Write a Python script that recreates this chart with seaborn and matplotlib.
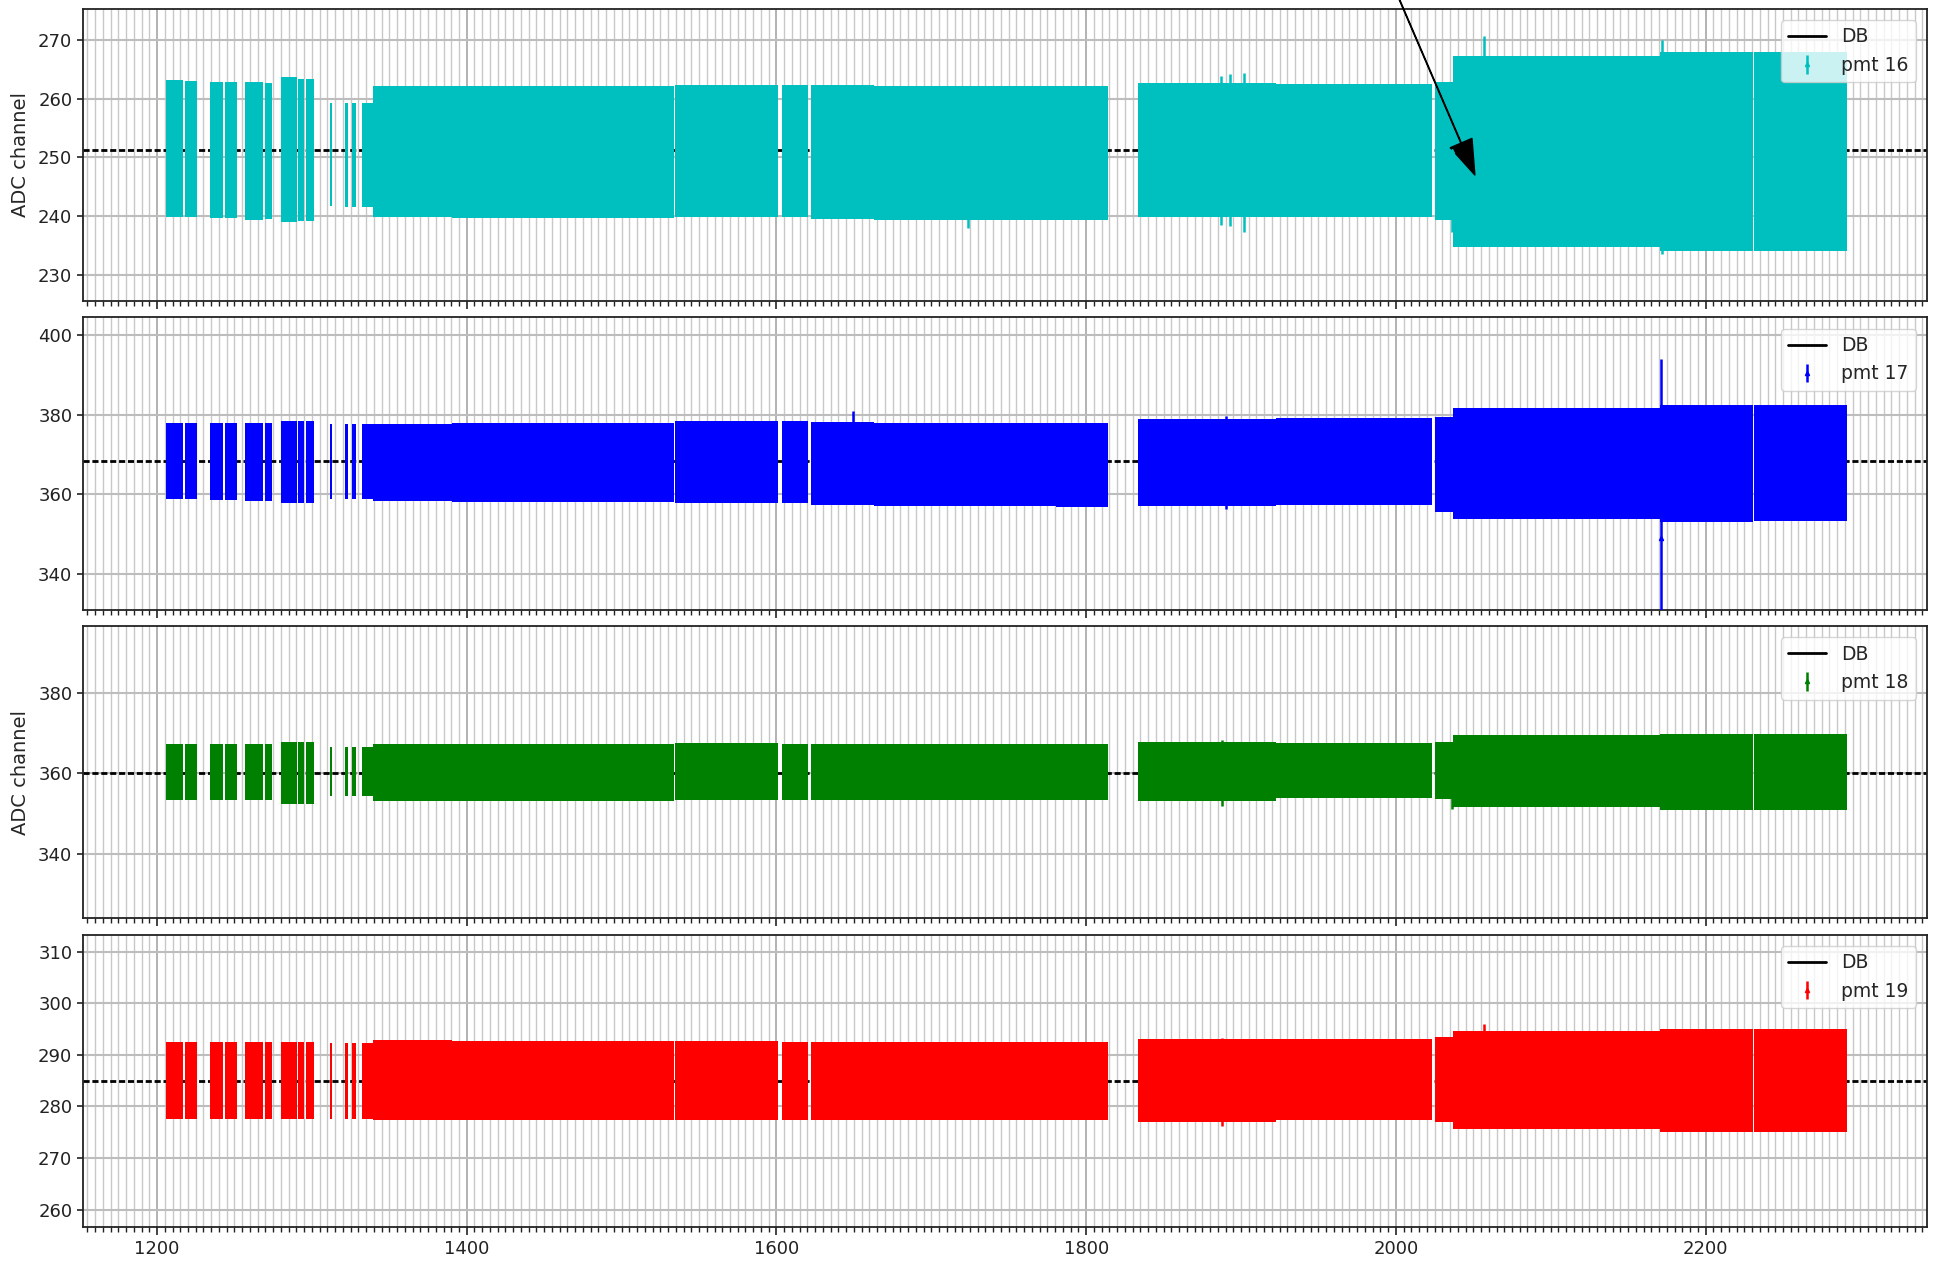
import numpy as np
import pandas as pd
import matplotlib
matplotlib.use("Agg")
import matplotlib.pyplot as plt
from matplotlib.lines import Line2D
from matplotlib.ticker import MultipleLocator
import seaborn as sns

# ---------------- data ----------------
# run-number segments of consecutive runs (shared by all PMTs)
seg_start = [1205.5, 1218.0, 1234.0, 1244.0, 1257.0, 1270.0, 1280.0, 1291.3, 1296.3,
             1311.9, 1321.4, 1325.8, 1332.2, 1339.6, 1390.65, 1534.25, 1603.8, 1622.6,
             1663.15, 1780.65, 1833.8, 1922.45, 2025.4, 2037.2, 2170.8, 2231.05]
seg_end = [1217.0, 1225.5, 1242.5, 1251.5, 1268.5, 1274.5, 1290.2, 1295.0, 1301.4,
           1312.9, 1323.6, 1328.6, 1339.7, 1390.5, 1534.1, 1600.8, 1620.1, 1663.0,
           1780.5, 1814.1, 1922.3, 2023.5, 2037.4, 2171.0, 2230.9, 2291.6]

# envelope (lower / upper end of error bars) within each segment
pmt16_lo = [239.8, 239.8, 239.6, 239.6, 239.3, 239.5, 239.0, 239.1, 239.2,
            241.8, 241.5, 241.5, 241.6, 239.9, 239.7, 239.8, 239.9, 239.5,
            239.4, 239.3, 239.8, 239.8, 239.3, 234.8, 234.0, 234.1]
pmt16_hi = [263.1, 263.0, 262.8, 262.8, 262.9, 262.7, 263.6, 263.4, 263.4,
            259.3, 259.2, 259.2, 259.3, 262.1, 262.2, 262.4, 262.3, 262.3,
            262.2, 262.2, 262.6, 262.5, 262.8, 267.3, 268.0, 267.9]

pmt17_lo = [358.8, 358.8, 358.6, 358.6, 358.4, 358.4, 357.9, 357.9, 357.9,
            358.8, 358.8, 358.8, 358.8, 358.4, 358.0, 357.7, 357.7, 357.3,
            357.1, 356.9, 357.0, 357.3, 355.5, 353.9, 353.1, 353.2]
pmt17_hi = [378.0, 378.0, 377.9, 377.9, 378.0, 378.0, 378.5, 378.5, 378.5,
            377.6, 377.6, 377.6, 377.6, 377.7, 378.0, 378.3, 378.3, 378.1,
            378.0, 378.0, 379.0, 379.2, 379.5, 381.7, 382.4, 382.3]

pmt18_lo = [353.4, 353.4, 353.4, 353.4, 353.4, 353.4, 352.5, 352.5, 352.5,
            354.4, 354.4, 354.4, 354.4, 353.2, 353.2, 353.3, 353.3, 353.4,
            353.4, 353.4, 353.2, 353.8, 353.6, 351.6, 350.9, 351.0]
pmt18_hi = [367.2, 367.2, 367.2, 367.2, 367.2, 367.2, 367.8, 367.8, 367.8,
            366.6, 366.6, 366.6, 366.6, 367.2, 367.4, 367.5, 367.4, 367.3,
            367.3, 367.3, 367.7, 367.6, 367.8, 369.4, 369.8, 369.7]

pmt19_lo = [277.5, 277.5, 277.5, 277.5, 277.5, 277.5, 277.5, 277.5, 277.5,
            277.5, 277.5, 277.5, 277.5, 277.4, 277.3, 277.3, 277.4, 277.4,
            277.3, 277.3, 276.9, 277.4, 277.0, 275.7, 275.0, 275.1]
pmt19_hi = [292.5, 292.5, 292.5, 292.5, 292.5, 292.5, 292.5, 292.5, 292.5,
            292.3, 292.3, 292.3, 292.3, 292.8, 292.7, 292.6, 292.5, 292.5,
            292.5, 292.5, 293.0, 293.1, 293.5, 294.6, 295.0, 294.9]

# individual runs that stick out (run, mean, lower end, upper end)
pmt16_out_x = [1724.0, 1887.0, 1893.0, 1902.0, 2036.0, 2057.0, 2172.0]
pmt16_out_m = [251.0, 251.0, 251.0, 251.0, 251.0, 251.0, 251.0]
pmt16_out_lo = [238.0, 238.5, 238.3, 237.3, 237.3, 235.0, 233.5]
pmt16_out_hi = [262.2, 263.8, 264.2, 264.3, 262.8, 270.6, 269.9]

pmt17_out_x = [1649.4, 1890.0, 2171.0]
pmt17_out_m = [368.0, 368.0, 349.0]
pmt17_out_lo = [358.0, 356.2, 304.0]
pmt17_out_hi = [381.0, 379.6, 394.0]

pmt18_out_x = [1888.0, 2036.0]
pmt18_out_m = [360.0, 360.0]
pmt18_out_lo = [352.0, 351.2]
pmt18_out_hi = [368.2, 367.8]

pmt19_out_x = [1888.0, 2057.0]
pmt19_out_m = [285.0, 285.0]
pmt19_out_lo = [276.2, 276.0]
pmt19_out_hi = [293.3, 296.0]

db_values = [251.2, 368.3, 360.2, 285.0]
pmt_ids = [16, 17, 18, 19]
pmt_colors = ["#00bfbf", "#0000ff", "#008000", "#ff0000"]

y_limits = [(225.5, 275.3), (331.0, 404.4), (324.1, 396.5), (256.6, 313.3)]
y_ticks = [[230, 240, 250, 260, 270], [340, 360, 380, 400], [340, 360, 380],
           [260, 270, 280, 290, 300, 310]]
x_limits = (1152.5, 2343.0)
x_ticks = [1200, 1400, 1600, 1800, 2000, 2200]

lows = [pmt16_lo, pmt17_lo, pmt18_lo, pmt19_lo]
highs = [pmt16_hi, pmt17_hi, pmt18_hi, pmt19_hi]
outs = [(pmt16_out_x, pmt16_out_m, pmt16_out_lo, pmt16_out_hi),
        (pmt17_out_x, pmt17_out_m, pmt17_out_lo, pmt17_out_hi),
        (pmt18_out_x, pmt18_out_m, pmt18_out_lo, pmt18_out_hi),
        (pmt19_out_x, pmt19_out_m, pmt19_out_lo, pmt19_out_hi)]

# ---------------- style ----------------
sns.set_theme(style="ticks", color_codes=False)
plt.rcParams["font.family"] = ["DejaVu Sans"]
plt.rcParams.update({
    "axes.edgecolor": "#222222",
    "axes.linewidth": 1.3,
    "xtick.color": "#222222",
    "ytick.color": "#222222",
    "xtick.labelsize": 13,
    "ytick.labelsize": 13,
    "axes.labelsize": 14,
    "legend.fontsize": 13.5,
})

fig, axes = plt.subplots(4, 1, sharex=True, figsize=(19.41, 12.65), dpi=100)
plt.subplots_adjust(left=0.043, right=0.9928, top=0.9931, bottom=0.0300, hspace=0.055)

for i, ax in enumerate(axes):
    col = pmt_colors[i]
    ax.set_axisbelow(True)

    # DB reference line
    db_df = pd.DataFrame({"run": list(x_limits), "DB": [db_values[i], db_values[i]]})
    sns.lineplot(data=db_df, x="run", y="DB", ax=ax, color="k", linewidth=2.0,
                 linestyle=(0, (2.2, 1.0)), zorder=1, legend=False)

    # dense error bars: envelope per run segment
    for x0, x1, lo, hi in zip(seg_start, seg_end, lows[i], highs[i]):
        ax.fill_between([x0, x1], [lo, lo], [hi, hi], color=col, linewidth=0, zorder=2)

    ox, om, olo, ohi = outs[i]
    om_a = np.array(om)
    yerr = [om_a - np.array(olo), np.array(ohi) - om_a]
    eb = ax.errorbar(ox, om, yerr=yerr, fmt="^", ms=3, color=col, elinewidth=1.8,
                     capsize=0, zorder=3, label=f"pmt {pmt_ids[i]}")

    ax.set_xlim(*x_limits)
    ax.set_ylim(*y_limits[i])
    ax.set_yticks(y_ticks[i])
    ax.set_xticks(x_ticks)
    ax.xaxis.set_minor_locator(MultipleLocator(5))
    ax.grid(which="major", axis="x", color="#a6a6a6", linewidth=1.2)
    ax.grid(which="minor", axis="x", color="#c8c8c8", linewidth=1.0)
    ax.grid(which="major", axis="y", color="#bdbdbd", linewidth=1.5)
    ax.tick_params(axis="x", which="major", length=6, width=1.2, direction="out")
    ax.tick_params(axis="x", which="minor", length=3.5, width=1.0, direction="out")
    ax.tick_params(axis="y", which="major", length=4.5, width=1.2, direction="out")
    for sp in ax.spines.values():
        sp.set_visible(True)
    ax.set_xlabel("")
    if i in (0, 2):
        ax.set_ylabel("ADC channel", labelpad=6)
    else:
        ax.set_ylabel("")

    handles = [Line2D([0], [0], color="k", linewidth=2.0), eb]
    ax.legend(handles, ["DB", f"pmt {pmt_ids[i]}"], loc="upper right",
              framealpha=0.8, borderaxespad=0.6)

axes[0].annotate("", xy=(2051.0, 247.0), xytext=(1989.0, 285.0),
                 arrowprops=dict(facecolor="black", edgecolor="black", width=0.4,
                                 headwidth=17, headlength=25, shrink=0),
                 annotation_clip=False)

fig.savefig("out.png", dpi=100)
